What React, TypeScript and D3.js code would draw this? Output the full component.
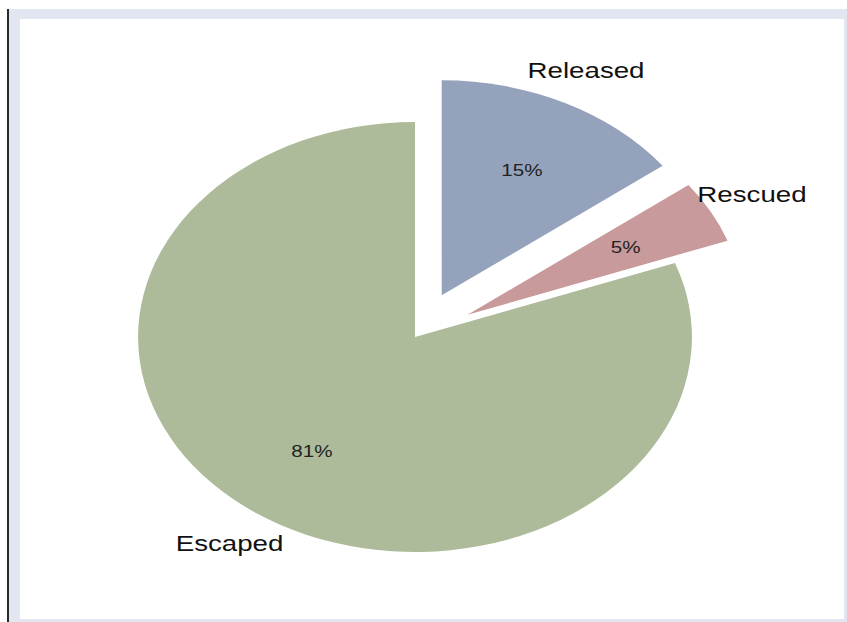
import React from "react";
import * as d3 from "d3";

const categories = ["Released", "Rescued", "Escaped"];
const values = [14.7, 4.7, 80.6];
const percentLabels = values.map((v) => `${Math.round(v)}%`);
const colors = ["#95a2bb", "#c99a9c", "#adbb9a"];

const W = 847;
const H = 622;
const CX = 415;
const CY = 337;
const R = 215;
const SX = 1.288;
const EXPLODE = 46.5;
const exploded = [true, true, false];

export default function App() {
  const pie = d3.pie<number>().sort(null).value((d) => d)(values);
  const arc = d3.arc<d3.PieArcDatum<number>>().innerRadius(0).outerRadius(R);
  const font = "'Liberation Sans', Arial, sans-serif";

  return (
    <svg
      width={W}
      height={H}
      style={{ position: "absolute", left: 0, top: 0, display: "block" }}
    >
      <rect x={0} y={0} width={W} height={H} fill="#ffffff" />
      <rect x={9} y={9} width={W - 9} height={H - 9} fill="#e1e6f0" />
      <rect x={7} y={9} width={2} height={H - 9} fill="#2a2a2a" />
      <rect x={20} y={19} width={824} height={600} fill="#ffffff" />
      <g transform={`translate(${CX},${CY}) scale(${SX},1)`}>
        {pie.map((p, i) => {
          const mid = (p.startAngle + p.endAngle) / 2;
          const off = exploded[i] ? EXPLODE : 0;
          const dx = Math.sin(mid) * off;
          const dy = -Math.cos(mid) * off;
          const inR = R * 0.65;
          const outR = R * 1.17;
          return (
            <g key={categories[i]} transform={`translate(${dx},${dy})`}>
              <path d={arc(p) || ""} fill={colors[i]} />
              <text
                x={Math.sin(mid) * inR}
                y={-Math.cos(mid) * inR}
                textAnchor="middle"
                dominantBaseline="central"
                fontFamily={font}
                fontSize={16}
                fill="#222"
              >
                {percentLabels[i]}
              </text>
              <text
                x={Math.sin(mid) * outR}
                y={-Math.cos(mid) * outR}
                textAnchor="middle"
                dominantBaseline="central"
                fontFamily={font}
                fontSize={21.5}
                fill="#111"
              >
                {categories[i]}
              </text>
            </g>
          );
        })}
      </g>
    </svg>
  );
}
